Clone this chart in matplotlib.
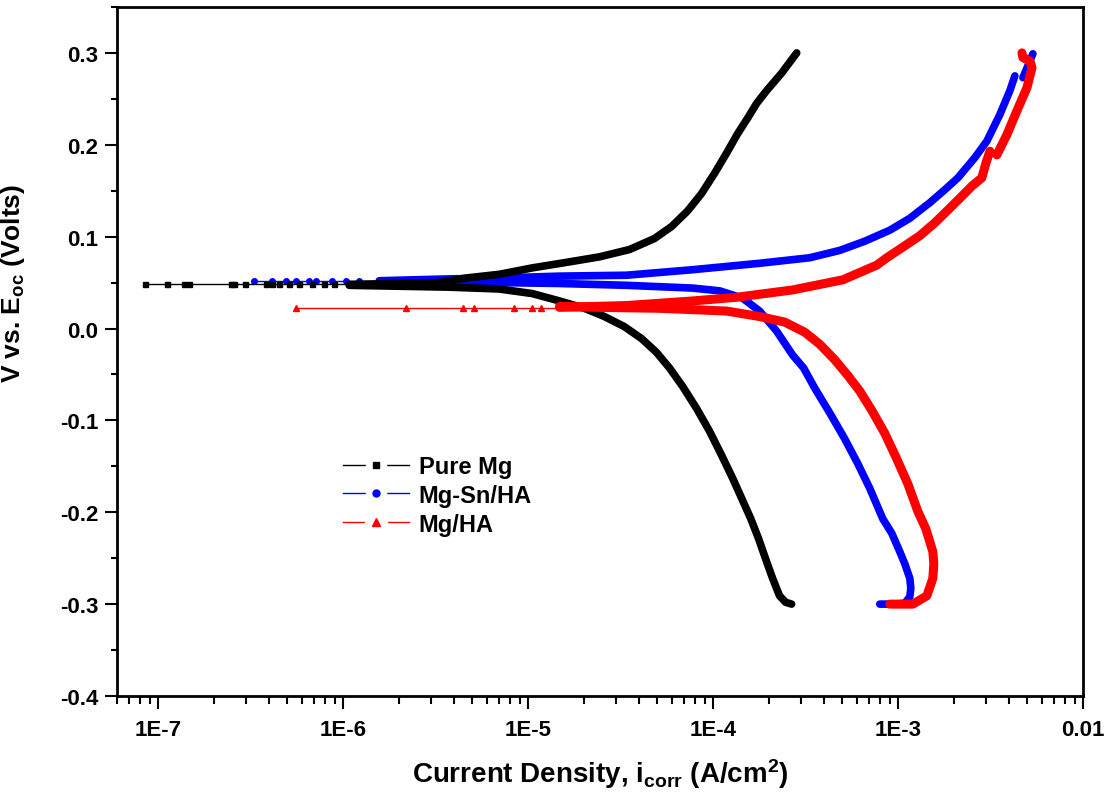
"""Potentiodynamic polarisation (Tafel) curves for pure Mg, Mg-Sn/HA and Mg/HA."""

import matplotlib
matplotlib.use("Agg")
import numpy as np
from matplotlib import pyplot as plt
from matplotlib.lines import Line2D
from matplotlib.ticker import FixedLocator, LogLocator, MultipleLocator, NullFormatter

plt.rcParams["font.family"] = ["Liberation Sans", "DejaVu Sans"]
plt.rcParams["font.weight"] = "bold"
plt.rcParams["mathtext.fontset"] = "custom"
plt.rcParams["mathtext.rm"] = "Liberation Sans:bold"
plt.rcParams["mathtext.it"] = "Liberation Sans:bold"
plt.rcParams["mathtext.bf"] = "Liberation Sans:bold"

# --- Pure Mg ---
mg_cath_i = [2.66e-4, 2.47e-4, 2.29e-4, 2.10e-4, 1.95e-4, 1.765e-4, 1.60e-4, 1.43e-4,
             1.277e-4, 1.113e-4, 9.59e-5, 8.15e-5, 6.85e-5, 5.82e-5, 4.95e-5, 4.11e-5,
             3.32e-5, 2.59e-5, 2.02e-5, 1.479e-5, 1.056e-5, 7.0e-6, 3.75e-6, 2.01e-6, 1.08e-6]
mg_cath_e = [-0.300, -0.298, -0.291, -0.272, -0.254, -0.229, -0.207, -0.185,
             -0.163, -0.138, -0.112, -0.087, -0.063, -0.043, -0.026, -0.011,
             0.002, 0.013, 0.022, 0.030, 0.038, 0.043, 0.045, 0.046, 0.047]
mg_low_i = [8.5e-8, 1.12e-7, 1.38e-7, 1.47e-7, 2.48e-7, 2.58e-7, 2.96e-7, 3.84e-7,
            4.14e-7, 4.52e-7, 5.12e-7, 5.79e-7, 6.81e-7, 7.91e-7, 8.96e-7]
mg_ecorr = 0.0485
mg_anod_i = [1.08e-6, 2.01e-6, 3.32e-6, 4.64e-6, 7.0e-6, 1.056e-5, 1.613e-5, 2.435e-5,
             3.54e-5, 4.83e-5, 5.97e-5, 7.29e-5, 8.68e-5, 1.02e-4, 1.185e-4, 1.358e-4,
             1.539e-4, 1.721e-4, 1.95e-4, 2.35e-4, 2.835e-4]
mg_anod_e = [0.048, 0.049, 0.050, 0.055, 0.059, 0.066, 0.072, 0.078,
             0.086, 0.098, 0.111, 0.128, 0.147, 0.169, 0.191, 0.212,
             0.229, 0.245, 0.259, 0.278, 0.300]

# --- Mg-Sn/HA ---
sn_cath_i = [7.97e-4, 9.61e-4, 1.088e-3, 1.159e-3, 1.173e-3, 1.159e-3, 1.088e-3, 1.023e-3,
             9.26e-4, 8.27e-4, 7.04e-4, 6.06e-4, 5.15e-4, 4.28e-4, 3.55e-4, 3.09e-4,
             2.696e-4, 2.21e-4, 1.787e-4, 1.446e-4, 1.086e-4, 7.76e-5, 3.41e-5, 1.479e-5,
             7.0e-6, 3.32e-6, 1.57e-6]
sn_cath_e = [-0.300, -0.300, -0.299, -0.292, -0.283, -0.272, -0.256, -0.243,
             -0.223, -0.207, -0.174, -0.147, -0.120, -0.092, -0.065, -0.043,
             -0.029, -0.003, 0.019, 0.033, 0.041, 0.044, 0.047, 0.049,
             0.050, 0.051, 0.051]
sn_low_i = [3.31e-7, 4.14e-7, 4.93e-7, 5.58e-7, 6.56e-7, 7.16e-7, 8.74e-7, 1.04e-6, 1.224e-6]
sn_ecorr = 0.052
sn_anod_i = [1.57e-6, 3.75e-6, 7.0e-6, 1.479e-5, 3.41e-5, 7.76e-5, 1.787e-4, 3.33e-4,
             4.84e-4, 6.61e-4, 9.03e-4, 1.159e-3, 1.487e-3, 1.79e-3, 2.108e-3, 2.603e-3,
             3.023e-3, 3.556e-3, 4.027e-3, 4.285e-3, np.nan, 4.735e-3, 5.04e-3, 5.36e-3]
sn_anod_e = [0.052, 0.054, 0.055, 0.057, 0.058, 0.064, 0.071, 0.077,
             0.085, 0.095, 0.107, 0.120, 0.137, 0.151, 0.164, 0.186,
             0.204, 0.233, 0.259, 0.275, np.nan, 0.273, 0.286, 0.299]

# --- Mg/HA ---
ha_cath_i = [9.03e-4, 1.203e-3, 1.432e-3, 1.543e-3, 1.562e-3, 1.543e-3, 1.414e-3, 1.28e-3,
             1.13e-3, 9.85e-4, 8.48e-4, 7.21e-4, 6.21e-4, 5.35e-4, 4.55e-4, 3.77e-4,
             3.13e-4, 2.44e-4, 1.787e-4, 1.185e-4, 5.14e-5, 2.435e-5, 1.479e-5]
ha_cath_e = [-0.300, -0.300, -0.291, -0.272, -0.256, -0.243, -0.218, -0.199,
             -0.169, -0.142, -0.114, -0.089, -0.068, -0.051, -0.034, -0.017,
             -0.004, 0.007, 0.013, 0.019, 0.022, 0.023, 0.024]
ha_low_i = [5.58e-7, 2.2e-6, 4.47e-6, 5.13e-6, 8.44e-6, 1.056e-5, 1.182e-5]
ha_ecorr = 0.0228
ha_anod_i = [1.479e-5, 3.41e-5, 7.76e-5, 1.341e-4, 2.696e-4, 5.03e-4, 7.68e-4, 8.70e-4,
             1.088e-3, 1.312e-3, 1.581e-3, 1.907e-3, 2.214e-3, 2.508e-3, 2.84e-3, 2.986e-3,
             3.14e-3, np.nan, 3.424e-3, 3.88e-3, 4.394e-3, 4.977e-3, 5.30e-3, 5.17e-3,
             4.735e-3, 4.68e-3]
ha_anod_e = [0.023, 0.025, 0.030, 0.034, 0.042, 0.053, 0.069, 0.077,
             0.090, 0.101, 0.115, 0.131, 0.144, 0.155, 0.164, 0.180,
             0.193, np.nan, 0.189, 0.211, 0.237, 0.262, 0.284, 0.291,
             0.295, 0.300]

x_ticks = [1e-7, 1e-6, 1e-5, 1e-4, 1e-3, 1e-2]
x_tick_labels = ["1E-7", "1E-6", "1E-5", "1E-4", "1E-3", "0.01"]
y_ticks = [-0.4, -0.3, -0.2, -0.1, 0.0, 0.1, 0.2, 0.3]
y_tick_labels = ["-0.4", "-0.3", "-0.2", "-0.1", "0.0", "0.1", "0.2", "0.3"]

series = [
    # label, colour, marker, size, branch width, cathodic, low-current points, anodic
    ("Mg-Sn/HA", "#0000ff", "o", 4.0, 5.5, (sn_cath_i, sn_cath_e), (sn_low_i, sn_ecorr), (sn_anod_i, sn_anod_e)),
    ("Pure Mg", "black", "s", 3.6, 5.5, (mg_cath_i, mg_cath_e), (mg_low_i, mg_ecorr), (mg_anod_i, mg_anod_e)),
    ("Mg/HA", "#ff0000", "^", 5.0, 6.5, (ha_cath_i, ha_cath_e), (ha_low_i, ha_ecorr), (ha_anod_i, ha_anod_e)),
]

fig = plt.figure(figsize=(11.07, 8.04), dpi=100)
ax = fig.add_axes([0.1057, 0.1331, 0.8726, 0.8570])

for label, color, marker, ms, lw, cath, low, anod in series:
    low_i, ecorr = low
    ax.plot(low_i + [cath[0][-1]], [ecorr] * (len(low_i) + 1), color=color, lw=1.0,
            marker=marker, ms=ms, markevery=list(range(len(low_i))))
    ax.plot(cath[0], cath[1], color=color, lw=lw, solid_capstyle="round", solid_joinstyle="round")
    ax.plot(anod[0], anod[1], color=color, lw=lw, solid_capstyle="round", solid_joinstyle="round")

ax.set_xscale("log")
ax.set_xlim(6e-8, 1e-2)
ax.set_ylim(-0.4, 0.35)

ax.xaxis.set_major_locator(FixedLocator(x_ticks))
ax.set_xticklabels(x_tick_labels)
ax.xaxis.set_minor_locator(LogLocator(base=10, subs=np.arange(2, 10)))
ax.xaxis.set_minor_formatter(NullFormatter())
ax.yaxis.set_major_locator(FixedLocator(y_ticks))
ax.set_yticklabels(y_tick_labels)
ax.yaxis.set_minor_locator(MultipleLocator(0.05))

ax.tick_params(which="both", direction="out", top=False, right=False, width=1.5, labelsize=16)
ax.tick_params(axis="x", which="major", length=9.5, pad=7)
ax.tick_params(axis="x", which="minor", length=5.5)
ax.tick_params(axis="y", which="major", length=8.5, pad=5)
ax.tick_params(axis="y", which="minor", length=4.5)
for spine in ax.spines.values():
    spine.set_linewidth(2.0)

ax.set_xlabel(r"Current Density, i$_{corr}$ (A/cm$^{2}$)", fontsize=20, fontweight="bold", labelpad=12)
ax.set_ylabel(r"V vs. E$_{oc}$ (Volts)", fontsize=19, fontweight="bold")
ax.yaxis.set_label_coords(-0.093, 0.60)

# legend keys: thin line broken around the symbol (white patch under the marker)
legend_keys = []
for color, marker, ms in [("black", "s", 4.5), ("#0000ff", "o", 5.0), ("#ff0000", "^", 6.0)]:
    gap = Line2D([], [], color=color, lw=1.0, marker="s", ms=ms + 10, mfc="white", mec="white")
    sym = Line2D([], [], ls="none", marker=marker, ms=ms, color=color)
    legend_keys.append((gap, sym))
ax.legend(legend_keys, ["Pure Mg", "Mg-Sn/HA", "Mg/HA"], loc="upper left",
          bbox_to_anchor=(0.234, 0.35), frameon=False, fontsize=17, handlelength=2.8,
          handletextpad=0.4, labelspacing=0.25, borderpad=0, borderaxespad=0)

fig.savefig("out.png", dpi=100)
